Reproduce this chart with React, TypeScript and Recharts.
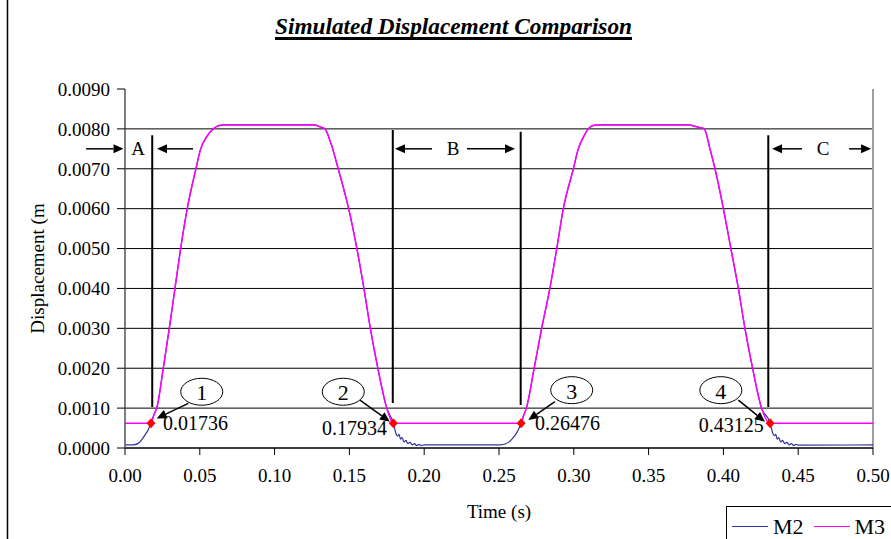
import React from 'react';
import {
  ComposedChart,
  Line,
  Scatter,
  XAxis,
  YAxis,
  CartesianGrid,
  ReferenceLine,
  ReferenceDot,
  Legend,
} from 'recharts';

const FONT = "'Liberation Serif', 'Times New Roman', serif";

// [time (s), displacement (m)]
const m3Before: [number, number][] = [[0, 0.00062]];

const hump1: [number, number][] = [
  [0.01736, 0.00062], [0.0195, 0.00085], [0.0212, 0.001], [0.0256, 0.002],
  [0.0296, 0.003], [0.0334, 0.004], [0.0372, 0.005], [0.0416, 0.006],
  [0.0474, 0.007], [0.0506, 0.0075], [0.0545, 0.0078], [0.059, 0.008],
  [0.0625, 0.00808], [0.066, 0.0081], [0.1265, 0.0081], [0.1305, 0.00805],
  [0.1336, 0.008], [0.138, 0.0076], [0.1425, 0.007], [0.1495, 0.006],
  [0.155, 0.005], [0.1597, 0.004], [0.164, 0.003], [0.169, 0.002],
  [0.175, 0.001], [0.17934, 0.00062],
];

const m3Between: [number, number][] = [[0.17934, 0.00062], [0.26476, 0.00062]];

const hump2: [number, number][] = [
  [0.26476, 0.00062], [0.2665, 0.00082], [0.2683, 0.001], [0.2735, 0.002],
  [0.2785, 0.003], [0.284, 0.004], [0.2886, 0.005], [0.293, 0.006],
  [0.2997, 0.007], [0.303, 0.0075], [0.3065, 0.0078], [0.3097, 0.008],
  [0.3125, 0.00808], [0.316, 0.0081], [0.3765, 0.0081], [0.3825, 0.00805],
  [0.3872, 0.008], [0.391, 0.0075], [0.3944, 0.007], [0.4, 0.006],
  [0.405, 0.005], [0.41, 0.004], [0.4144, 0.003], [0.4195, 0.002],
  [0.4255, 0.001], [0.43125, 0.00062],
];

const m3After: [number, number][] = [[0.5, 0.00062]];

const m2Lead: [number, number][] = [
  [0, 0.00008], [0.0055, 0.00008], [0.0085, 0.00011], [0.011, 0.0002],
  [0.0134, 0.00033], [0.0155, 0.00046], [0.0167, 0.00056],
];

const m2Gap: [number, number][] = [
  [0.1803, 0.00048], [0.1812, 0.00035], [0.1822, 0.0003], [0.1832, 0.00034],
  [0.1842, 0.00022], [0.1852, 0.00026], [0.1865, 0.00015], [0.1878, 0.00019],
  [0.189, 0.00011], [0.1905, 0.00014], [0.192, 0.00008], [0.1935, 0.00011],
  [0.195, 0.00006], [0.1965, 0.00009], [0.198, 0.00006], [0.2, 0.00008],
  [0.251, 0.00008], [0.254, 0.0001], [0.257, 0.00016], [0.2595, 0.00026],
  [0.2618, 0.00038], [0.2635, 0.0005],
];

const m2Tail: [number, number][] = [
  [0.4322, 0.00048], [0.4331, 0.00036], [0.434, 0.00031], [0.435, 0.00034],
  [0.436, 0.00022], [0.437, 0.00026], [0.4383, 0.00015], [0.4396, 0.00019],
  [0.441, 0.00011], [0.4425, 0.00014], [0.444, 0.00008], [0.4455, 0.00011],
  [0.447, 0.00006], [0.4485, 0.00009], [0.45, 0.00007], [0.5, 0.00008],
];

const markTimes = [0.01736, 0.17934, 0.26476, 0.43125];
const markLevel = 0.00062;

const xTicks = [0, 0.05, 0.1, 0.15, 0.2, 0.25, 0.3, 0.35, 0.4, 0.45, 0.5];
const yTicks = [0, 0.001, 0.002, 0.003, 0.004, 0.005, 0.006, 0.007, 0.008, 0.009];
const gridY = [0.001, 0.002, 0.003, 0.004, 0.005, 0.006, 0.007, 0.008];

const seriesNames = ['M2', 'M3'];
const seriesColors = ['#333399', '#ff00ff'];

// annotation placement (data units)
const dividers = [
  { x: 0.0182, top: 0.00784, bottom: 0.00103 },
  { x: 0.179, top: 0.00797, bottom: 0.00113 },
  { x: 0.2645, top: 0.00793, bottom: 0.00108 },
  { x: 0.43, top: 0.00784, bottom: 0.00103 },
];
const arrowY = 0.0075;
const spanArrows: [number, number][] = [
  [-0.026, -0.001], [0.0455, 0.0214],
  [0.2052, 0.1805], [0.2286, 0.2607],
  [0.4525, 0.4325], [0.484, 0.4987],
];
const spanLetters = [
  { t: 0.0087, s: 'A' },
  { t: 0.2193, s: 'B' },
  { t: 0.4666, s: 'C' },
];
const callouts = [
  { n: '1', cx: 0.0513, cy: 0.00141, from: [0.0423, 0.00112], to: [0.0212, 0.00074], lx: 0.0254, ly: 0.00062, anchor: 'start' },
  { n: '2', cx: 0.1459, cy: 0.00141, from: [0.1571, 0.0012], to: [0.1771, 0.00066], lx: 0.1752, ly: 0.0005, anchor: 'end' },
  { n: '3', cx: 0.2986, cy: 0.00145, from: [0.2874, 0.00116], to: [0.2696, 0.0007], lx: 0.2741, ly: 0.00062, anchor: 'start' },
  { n: '4', cx: 0.3983, cy: 0.00145, from: [0.41, 0.0012], to: [0.4278, 0.00066], lx: 0.4269, ly: 0.00058, anchor: 'end' },
];

const toPoints = (pairs: [number, number][]) => pairs.map(([t, v]) => ({ t, v }));
const m2Data = toPoints([...m2Lead, ...hump1, ...m2Gap, ...hump2, ...m2Tail]);
const m3Data = toPoints([...m3Before, ...hump1, ...m3Between.slice(1), ...hump2, ...m3After]);
const markData = markTimes.map((t) => ({ t, v: markLevel }));

const ArrowShape = (props: any) => {
  const { x1, y1, x2, y2 } = props;
  const dx = x2 - x1;
  const dy = y2 - y1;
  const len = Math.hypot(dx, dy) || 1;
  const ux = dx / len;
  const uy = dy / len;
  const hl = 10;
  const hw = 4.5;
  const bx = x2 - ux * hl;
  const by = y2 - uy * hl;
  return (
    <g>
      <line x1={x1} y1={y1} x2={bx} y2={by} stroke="#000" strokeWidth={1.5} />
      <polygon
        points={`${x2},${y2} ${bx - uy * hw},${by + ux * hw} ${bx + uy * hw},${by - ux * hw}`}
        fill="#000"
      />
    </g>
  );
};

const DiamondShape = (props: any) => {
  const { cx, cy } = props;
  return <polygon points={`${cx},${cy - 5} ${cx + 4.5},${cy} ${cx},${cy + 5} ${cx - 4.5},${cy}`} fill="#ff0000" />;
};

const textShape = (s: string, size: number, anchor: string) => (props: any) => (
  <text
    x={props.cx}
    y={props.cy}
    textAnchor={anchor}
    dominantBaseline="central"
    fontFamily={FONT}
    fontSize={size}
    fill="#000"
  >
    {s}
  </text>
);

const ellipseShape = (n: string) => (props: any) => (
  <g>
    <ellipse cx={props.cx} cy={props.cy} rx={21} ry={13.5} fill="none" stroke="#000" strokeWidth={1} />
    <text x={props.cx} y={props.cy + 1} textAnchor="middle" dominantBaseline="central" fontFamily={FONT} fontSize={22} fill="#000">
      {n}
    </text>
  </g>
);

const renderLegend = () => (
  <div
    style={{
      width: 200,
      height: 40,
      boxSizing: 'border-box',
      borderLeft: '1.5px solid #000',
      borderTop: '1.5px solid #000',
      display: 'flex',
      alignItems: 'center',
      paddingLeft: 5,
      fontFamily: FONT,
      fontSize: 22,
      color: '#000',
    }}
  >
    {seriesNames.map((name, i) => (
      <React.Fragment key={name}>
        <span style={{ display: 'inline-block', width: 36, borderTop: `1.5px solid ${seriesColors[i]}`, marginLeft: i === 0 ? 0 : 10, marginRight: 5 }} />
        <span>{name}</span>
      </React.Fragment>
    ))}
  </div>
);

export default function App() {
  return (
    <div style={{ position: 'absolute', left: 0, top: 0, width: 891, height: 539, overflow: 'hidden', background: '#fff' }}>
      <svg width={891} height={539} style={{ position: 'absolute', left: 0, top: 0, pointerEvents: 'none' }}>
        <line x1={7.5} y1={0} x2={7.5} y2={539} stroke="#000" strokeWidth={1.5} />
        <text
          x={453.5}
          y={34}
          textAnchor="middle"
          fontFamily={FONT}
          fontWeight="bold"
          fontStyle="italic"
          fontSize={24}
          textLength={357}
          lengthAdjust="spacingAndGlyphs"
          fill="#000"
        >
          Simulated Displacement Comparison
        </text>
        <rect x={275} y={37} width={357} height={3} fill="#000" />
      </svg>
      <div style={{ position: 'absolute', left: 0, top: 0 }}>
        <ComposedChart width={891} height={539} margin={{ top: 89, right: 18, bottom: 19, left: 25 }}>
          <CartesianGrid horizontal vertical={false} horizontalValues={gridY} stroke="#000" strokeWidth={1} />
          <XAxis
            dataKey="t"
            type="number"
            domain={[0, 0.5]}
            ticks={xTicks}
            allowDataOverflow
            tickFormatter={(v: number) => v.toFixed(2)}
            tick={{ fill: '#000', fontSize: 19, fontFamily: FONT }}
            tickSize={7}
            tickMargin={14}
            height={72}
            axisLine={{ stroke: '#000', strokeWidth: 1.5 }}
            tickLine={{ stroke: '#000' }}
            label={{ value: 'Time (s)', position: 'insideBottom', offset: 2, fill: '#000', fontSize: 19, fontFamily: FONT }}
          />
          <YAxis
            dataKey="v"
            type="number"
            domain={[0, 0.009]}
            ticks={yTicks}
            allowDataOverflow
            tickFormatter={(v: number) => v.toFixed(4)}
            tick={{ fill: '#000', fontSize: 19, fontFamily: FONT }}
            tickSize={8}
            tickMargin={7}
            width={100}
            axisLine={{ stroke: '#555', strokeWidth: 1.5 }}
            tickLine={{ stroke: '#000' }}
            label={{
              value: 'Displacement (m',
              angle: -90,
              position: 'insideLeft',
              offset: 12,
              fill: '#000',
              fontSize: 19,
              fontFamily: FONT,
              style: { textAnchor: 'middle' },
            }}
          />
          <ReferenceLine segment={[{ x: 0.5, y: 0 }, { x: 0.5, y: 0.009 }]} stroke="#a0a0a0" strokeWidth={2} ifOverflow="visible" />
          {dividers.map((d) => (
            <ReferenceLine
              key={d.x}
              segment={[{ x: d.x, y: d.top }, { x: d.x, y: d.bottom }]}
              stroke="#000"
              strokeWidth={2}
              ifOverflow="visible"
            />
          ))}
          <Line data={m2Data} dataKey="v" name="M2" type="monotone" stroke={seriesColors[0]} strokeWidth={1.2} dot={false} isAnimationActive={false} />
          <Line data={m3Data} dataKey="v" name="M3" type="monotone" stroke={seriesColors[1]} strokeWidth={1.5} dot={false} isAnimationActive={false} />
          <Scatter data={markData} dataKey="v" fill="#ff0000" shape={DiamondShape} isAnimationActive={false} legendType="none" />
          {spanArrows.map(([a, b], i) => (
            <ReferenceLine
              key={`arr${i}`}
              segment={[{ x: a, y: arrowY }, { x: b, y: arrowY }]}
              ifOverflow="visible"
              shape={ArrowShape}
            />
          ))}
          {spanLetters.map((l) => (
            <ReferenceDot key={l.s} x={l.t} y={arrowY} r={0} ifOverflow="visible" shape={textShape(l.s, 19, 'middle')} />
          ))}
          {callouts.map((c) => (
            <ReferenceLine
              key={`co${c.n}`}
              segment={[{ x: c.from[0], y: c.from[1] }, { x: c.to[0], y: c.to[1] }]}
              ifOverflow="visible"
              shape={ArrowShape}
            />
          ))}
          {callouts.map((c) => (
            <ReferenceDot key={`el${c.n}`} x={c.cx} y={c.cy} r={0} ifOverflow="visible" shape={ellipseShape(c.n)} />
          ))}
          {callouts.map((c, i) => (
            <ReferenceDot
              key={`lb${c.n}`}
              x={c.lx}
              y={c.ly}
              r={0}
              ifOverflow="visible"
              shape={textShape(markTimes[i].toFixed(5), 20, c.anchor)}
            />
          ))}
          <Legend
            layout="horizontal"
            align="center"
            verticalAlign="middle"
            content={renderLegend}
            wrapperStyle={{ position: 'absolute', left: 726, top: 506, width: 200, height: 40 }}
          />
        </ComposedChart>
      </div>
    </div>
  );
}
